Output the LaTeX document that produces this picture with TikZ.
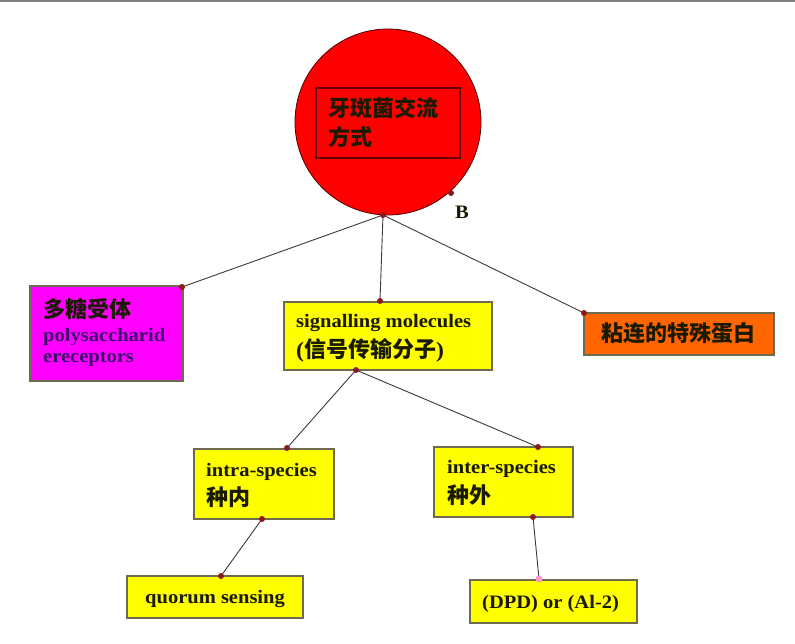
\documentclass[tikz,border=0pt]{standalone}
\usepackage{fontspec}
\setmainfont{Liberation Serif}[FakeStretch=1.08]
\newfontfamily\cjk{Noto Sans CJK SC}
\definecolor{boxborder}{HTML}{6E6A50}
\definecolor{linkgray}{HTML}{3A3A3A}
\definecolor{dotred}{HTML}{8B1A1A}
\definecolor{txtdark}{HTML}{1A1A00}
\definecolor{purp}{HTML}{3B0A6B}
\definecolor{orangebox}{HTML}{FF6600}
\definecolor{magbox}{HTML}{FF00FF}
\definecolor{yelbox}{HTML}{FFFF00}
\definecolor{redc}{HTML}{FF0000}
\begin{document}
\begin{tikzpicture}[x=1pt,y=-1pt,
  box/.style={draw=boxborder, line width=1.5pt, anchor=north west, inner sep=0pt, outer sep=0pt},
  txt/.style={anchor=west, inner sep=0pt, text=txtdark, font=\bfseries\fontsize{19}{21}\selectfont},
  zh/.style={anchor=west, inner sep=0pt, text=txtdark, font=\cjk\bfseries\fontsize{22}{24}\selectfont},
  link/.style={draw=linkgray, line width=0.9pt},
  dot/.style={circle, fill=dotred, inner sep=0pt, minimum size=6pt}]
\useasboundingbox (0,0) rectangle (795,643);
\draw[gray, line width=2pt] (0,1) -- (795,1);

% circle
\node[circle, fill=redc, draw=black!70!red, line width=0.8pt, minimum size=186pt, inner sep=0pt] (main) at (388,122) {};
\node[box, draw=black!60!red, minimum width=144pt, minimum height=70pt] (titlebox) at (316,88) {};
\node[zh] (t1) at (328,108) {牙斑菌交流};
\node[zh] (t2) at (328,137) {方式};

% boxes
\node[box, fill=magbox, minimum width=153pt, minimum height=95pt] (poly) at (30,286) {};
\node[box, fill=yelbox, minimum width=208pt, minimum height=68pt] (sig) at (284,302) {};
\node[box, fill=orangebox, minimum width=190pt, minimum height=42pt] (org) at (584,313) {};
\node[box, fill=yelbox, minimum width=140pt, minimum height=70pt] (intra) at (194,449) {};
\node[box, fill=yelbox, minimum width=139pt, minimum height=70pt] (inter) at (434,447) {};
\node[box, fill=yelbox, minimum width=176pt, minimum height=42pt] (quorum) at (127,576) {};
\node[box, fill=yelbox, minimum width=167pt, minimum height=43pt] (dpd) at (470,580) {};

% connection points
\coordinate (cB) at (383,215);
\coordinate (pT) at (182,287);
\coordinate (sT) at (380,301);
\coordinate (oT) at (584,313);
\coordinate (sB) at (356,370);
\coordinate (iT) at (287,448);
\coordinate (eT) at (538,447);
\coordinate (iB) at (262,519);
\coordinate (eB) at (533,517);
\coordinate (qT) at (221,576);
\coordinate (dT) at (539,579);
\coordinate (bP) at (451,193);

% links
\path[link] (cB) -- (pT);
\path[link] (cB) -- (sT);
\path[link] (cB) -- (oT);
\path[link] (sB) -- (iT);
\path[link] (sB) -- (eT);
\path[link] (iB) -- (qT);
\path[link] (eB) -- (dT);

% dots
\foreach \p in {cB,pT,sT,oT,sB,iT,eT,iB,eB,qT,bP}
  \node[dot] at (\p) {};
\node[circle, fill=pink!80!magenta, inner sep=0pt, minimum size=7pt] (dTdot) at (dT) {};

% texts
\node[txt] (blabel) at (455,212) {B};
\node[zh] (p1) at (43,309) {多糖受体};
\node[txt, text=purp] (p2) at (43,337) {polysaccharid};
\node[txt, text=purp] (p3) at (43,359) {ereceptors};
\node[txt] (s1) at (296,323) {signalling molecules};
\node[txt, font=\bfseries\fontsize{22}{24}\selectfont] (s2) at (296,350) {({\cjk 信号传输分子})};
\node[zh, anchor=center] (o1) at (678,333) {粘连的特殊蛋白};
\node[txt] (i1) at (206,472) {intra-species};
\node[zh] (i2) at (206,497) {种内};
\node[txt] (e1) at (447,469) {inter-species};
\node[zh] (e2) at (447,495) {种外};
\node[txt] (q1) at (145,599) {quorum sensing};
\node[txt] (d1) at (482,604) {(DPD) or (Al-2)};
\end{tikzpicture}
\end{document}
